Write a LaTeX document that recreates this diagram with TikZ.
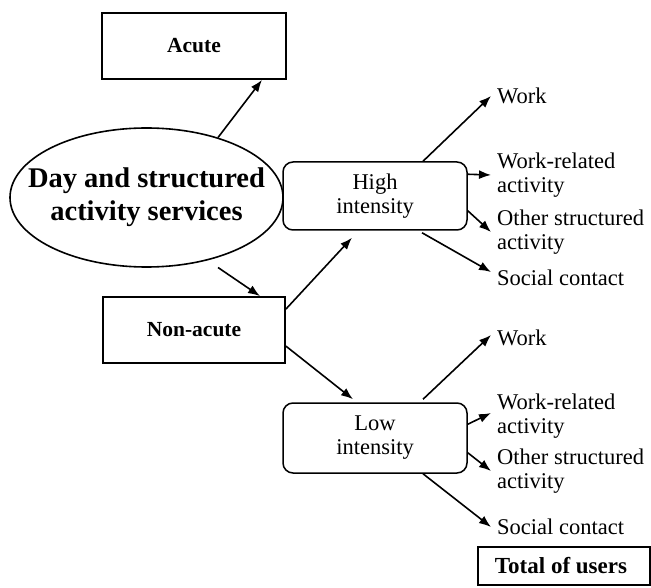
\documentclass[tikz,border=0pt]{standalone}
\usepackage{fontspec}
\setmainfont{Liberation Serif}
\usetikzlibrary{arrows.meta,shapes.geometric}
\begin{document}
\begin{tikzpicture}[x=1pt,y=-1pt,
  box/.style={draw, line width=1.8pt, inner sep=0pt, font=\fontsize{21.5}{23}\selectfont\bfseries},
  rbox/.style={draw, line width=1.5pt, rounded corners=10pt, inner sep=0pt, minimum width=184pt, align=center, font=\fontsize{22.5}{24}\selectfont},
  lbl/.style={anchor=west, inner xsep=6pt, inner ysep=0pt, align=left, font=\fontsize{22.5}{24}\selectfont},
  arr/.style={line width=1.6pt, -{Latex[length=12pt,width=9pt]}}]
\useasboundingbox (0,0) rectangle (651,588);
\node[box, minimum width=184pt, minimum height=66pt] (acute) at (194,46) {Acute};
\node[draw, ellipse, line width=1.6pt, minimum width=273pt, minimum height=139pt, inner sep=0pt] (ell) at (146.5,197.5) {};
\node[align=center, inner sep=0pt, font=\fontsize{28.5}{33}\selectfont\bfseries] (elltext) at (ell.center) {Day and structured\\activity services};
\node[box, minimum width=182pt, minimum height=66pt] (non) at (194,330) {Non-acute};
\node[rbox, minimum height=68pt] (high) at (375,196) {High\\intensity};
\node[rbox, minimum height=70pt] (low) at (375,438) {Low\\intensity};
\node[box, line width=1.5pt, minimum width=172pt, minimum height=38pt, font=\fontsize{23}{25}\selectfont\bfseries] (tot) at (564,566) {\hspace*{-6pt}Total of users};
% labels
\node[lbl] (hw) at (491,96) {Work};
\node[lbl] (hwr) at (491,175) {Work-related\\activity};
\node[lbl] (ho) at (491,232) {Other structured\\activity};
\node[lbl] (hs) at (491,278) {Social contact};
\node[lbl] (lw) at (491,338) {Work};
\node[lbl] (lwr) at (491,416) {Work-related\\activity};
\node[lbl] (lo) at (491,471) {Other structured\\activity};
\node[lbl] (ls) at (491,527) {Social contact};
% connectors
\draw[arr] (ell.40) -- ([xshift=68pt]acute.south);
\draw[arr] ([yshift=-10pt]ell.-40) -- ([xshift=66pt]non.north);
\draw[arr] ([yshift=-13pt]non.north east) -- ([xshift=-23pt,yshift=-7pt]high.south);
\draw[arr] ([yshift=-50pt]non.north east) -- ([xshift=-22pt,yshift=3pt]low.north);
\draw[arr] ([xshift=48pt]high.north) -- (hw.west);
\draw[arr] ([yshift=-13pt]high.north east) -- (hwr.west);
\draw[arr] ([yshift=20pt]high.south east) -- (ho.west);
\draw[arr] ([xshift=47pt,yshift=-2pt]high.south) -- ([yshift=6pt]hs.west);
\draw[arr] ([xshift=48pt,yshift=3pt]low.north) -- ([yshift=3pt]lw.west);
\draw[arr] ([yshift=-22pt]low.north east) -- ([yshift=3pt]lwr.west);
\draw[arr] ([yshift=21pt]low.south east) -- (lo.west);
\draw[arr] ([xshift=48pt]low.south) -- (ls.west);
\end{tikzpicture}
\end{document}
